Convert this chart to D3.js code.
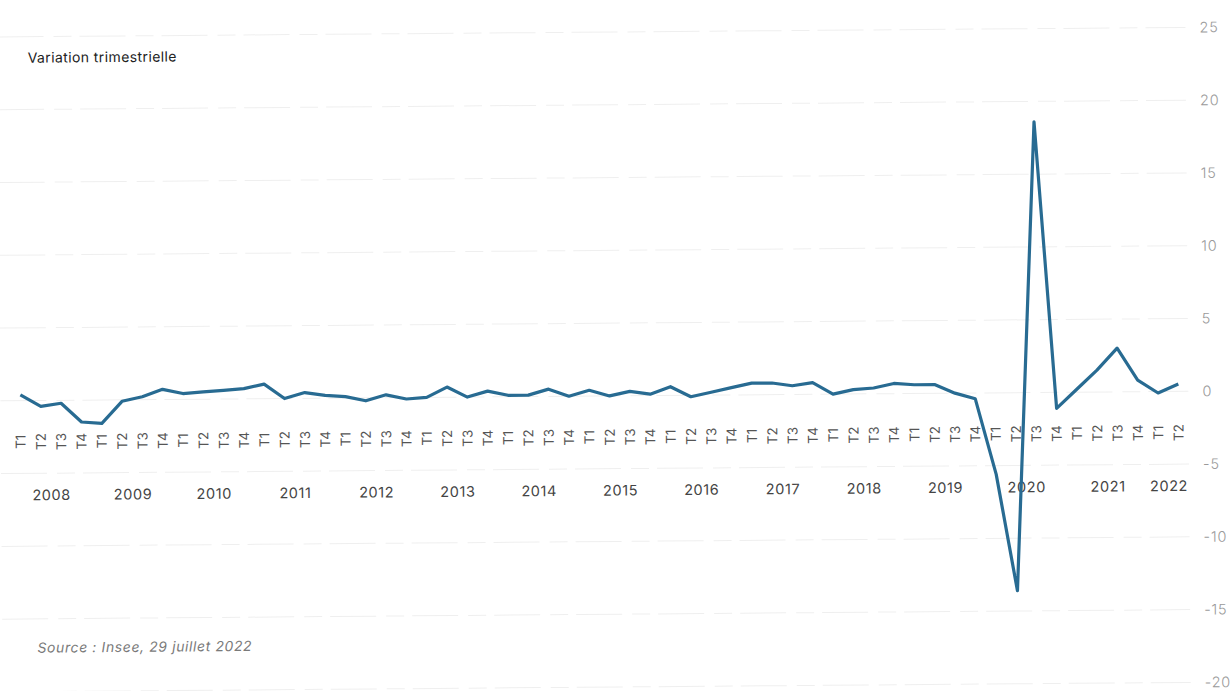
<!DOCTYPE html>
<html lang="fr">
<head>
<meta charset="utf-8">
<script src="https://cdn.jsdelivr.net/npm/d3@7"></script>
<style>
  html, body { margin: 0; padding: 0; background: #ffffff; }
  svg { display: block; }
  text { font-family: Inter, "Open Sans", "Noto Sans", sans-serif; }
</style>
</head>
<body>
<svg id="chart" width="1230" height="691"></svg>
<script>
// PIB : variation trimestrielle (%), 2008 T1 - 2022 T2
const years = [2008, 2009, 2010, 2011, 2012, 2013, 2014, 2015, 2016, 2017, 2018, 2019, 2020, 2021, 2022];
const quarterNames = ["T1", "T2", "T3", "T4"];
const values = [
  0.4, -0.4, -0.2, -1.5,
  -1.6, -0.1, 0.2, 0.7,
  0.4, 0.5, 0.6, 0.7,
  1.0, 0.0, 0.4, 0.2,
  0.1, -0.2, 0.2, -0.1,
  0.0, 0.7, 0.0, 0.4,
  0.1, 0.1, 0.5, 0.0,
  0.4, 0.0, 0.3, 0.1,
  0.6, -0.1, 0.2, 0.5,
  0.8, 0.8, 0.6, 0.8,
  0.0, 0.3, 0.4, 0.7,
  0.6, 0.6, 0.0, -0.4,
  -5.6, -13.6, 18.6, -1.1,
  0.2, 1.5, 3.0, 0.8,
  -0.1, 0.5
];
const yTicks = [25, 20, 15, 10, 5, 0, -5, -10, -15, -20];
const titleText = "Variation trimestrielle";
const sourceText = "Source : Insee, 29 juillet 2022";

// one entry per quarter: year, quarter label, value
const periods = values.map((v, i) => ({
  i,
  year: years[Math.floor(i / 4)],
  q: quarterNames[i % 4],
  v
}));

const svg = d3.select("#chart");
const root = svg.append("g").attr("transform", "rotate(-0.46, 615, 345)");

const x = d3.scaleLinear().domain([0, values.length - 1]).range([20, 1178]);
const y = d3.scaleLinear().domain([-20, 25]).range([687, 32]);

// horizontal guide lines
root.append("g")
  .selectAll("line")
  .data(yTicks)
  .join("line")
  .attr("x1", 0).attr("x2", 1188)
  .attr("y1", d => y(d)).attr("y2", d => y(d))
  .attr("stroke", "#efefef")
  .attr("stroke-width", 1)
  .attr("stroke-dasharray", "46 10 18 8");

// value axis on the right
const yAxis = d3.axisRight(y).tickValues(yTicks).tickSize(0).tickPadding(0).tickFormat(d => String(d));
const gy = root.append("g").attr("transform", "translate(1202,0)").call(yAxis);
gy.select(".domain").remove();
gy.selectAll("text")
  .attr("fill", "#9a9a9a")
  .attr("font-size", 14.5)
  .attr("font-weight", 300)
  .attr("letter-spacing", "0.8")
  .style("font-family", "Inter, 'Open Sans', sans-serif");

// quarter labels (rotated)
root.append("g")
  .selectAll("text")
  .data(periods)
  .join("text")
  .attr("transform", d => `translate(${x(d.i)},437) rotate(-90)`)
  .attr("text-anchor", "middle")
  .attr("dy", "0.35em")
  .attr("font-size", 13.5)
  .attr("fill", "#555")
  .text(d => d.q);

// year labels centred under their quarters
const yearGroups = d3.groups(periods, d => d.year);
root.append("g")
  .selectAll("text")
  .data(yearGroups)
  .join("text")
  .attr("x", d => (x(d[1][0].i) + x(d[1][d[1].length - 1].i)) / 2)
  .attr("y", 490.5)
  .attr("dy", "0.35em")
  .attr("text-anchor", "middle")
  .attr("font-size", 14.5)
  .attr("letter-spacing", "0.6")
  .attr("fill", "#444")
  .text(d => d[0]);

// series line
const line = d3.line().x(d => x(d.i)).y(d => y(d.v));
root.append("path")
  .datum(periods)
  .attr("d", line)
  .attr("fill", "none")
  .attr("stroke", "#286b92")
  .attr("stroke-width", 3.2)
  .attr("stroke-linejoin", "round");

// title and source
root.append("text")
  .attr("x", 30).attr("y", 58)
  .attr("font-size", 14)
  .attr("fill", "#222")
  .attr("letter-spacing", "0.4")
  .text(titleText);

root.append("text")
  .attr("x", 35).attr("y", 648)
  .attr("font-size", 14)
  .attr("font-style", "italic")
  .attr("fill", "#7a7a7a")
  .attr("letter-spacing", "0.6")
  .text(sourceText);
</script>
</body>
</html>
